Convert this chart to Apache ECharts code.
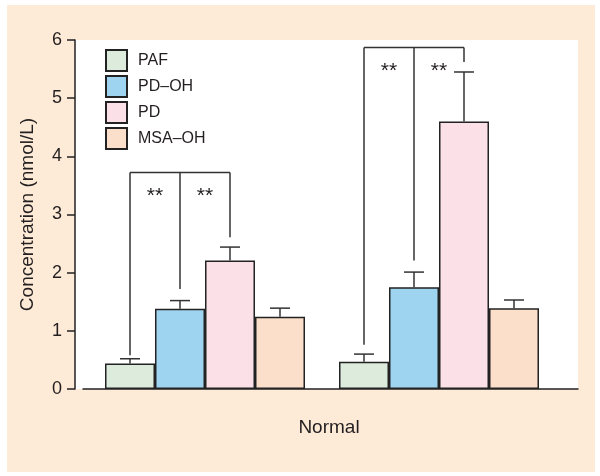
<!DOCTYPE html>
<html><head><meta charset="utf-8">
<script src="https://cdn.jsdelivr.net/npm/echarts@6/dist/echarts.min.js"></script>
<style>
html,body{margin:0;padding:0;background:#fff;}
#wrap{position:relative;width:600px;height:476px;}
#panel{position:absolute;left:7px;top:5px;width:588px;height:467px;background:#fdebd7;}
#chart{position:absolute;left:0;top:0;width:600px;height:476px;}
</style>
</head><body>
<div id="wrap"><div id="panel"></div><div id="chart"></div></div>
<script>
// ---- data ----
const categories = ['Group A', 'Group B'];
const seriesNames = ['PAF', 'PD\u2013OH', 'PD', 'MSA\u2013OH'];
const pafValues   = [0.44, 0.47];
const pdohValues  = [1.38, 1.75];
const pdValues    = [2.21, 4.60];
const msaohValues = [1.24, 1.39];
// upper end of each error bar
const pafErrTop   = [0.52, 0.60];
const pdohErrTop  = [1.52, 2.01];
const pdErrTop    = [2.44, 5.45];
const msaohErrTop = [1.39, 1.53];
// significance brackets (PAF / PD-OH / PD legs)
const bracketTop     = [3.72, 5.87];
const bracketLegEnds = [[0.58, 1.72, 2.61], [0.76, 2.21, 5.62]];
const bracketMarks   = ['**', '**'];
const yTicks = [0, 1, 2, 3, 4, 5, 6];

const colors = ['#dcebdc', '#9fd4f1', '#fbe0e7', '#fbdfca'];
const FONT = '"Liberation Sans", Arial, sans-serif';
const TXT = '#231f20';
const BAR_W = 50;

const allValues = [pafValues, pdohValues, pdValues, msaohValues];
const allErr = [pafErrTop, pdohErrTop, pdErrTop, msaohErrTop];

const barSeries = allValues.map((vals, s) => ({
  name: seriesNames[s],
  type: 'bar',
  xAxisIndex: 0, yAxisIndex: 0,
  data: vals,
  barWidth: BAR_W,
  barGap: '0%',
  itemStyle: { color: colors[s], borderColor: '#222', borderWidth: 1.5 },
  emphasis: { disabled: true },
  z: 2
}));

const errData = [];
allValues.forEach((vals, s) => vals.forEach((v, c) => errData.push([c, s, v, allErr[s][c]])));

const errSeries = {
  type: 'custom',
  xAxisIndex: 0, yAxisIndex: 0,
  data: errData,
  z: 4,
  silent: true,
  renderItem: function (params, api) {
    const c = api.value(0), s = api.value(1);
    const base = api.coord([c, api.value(2)]);
    const top = api.coord([c, api.value(3)]);
    const x = base[0] + (s - 1.5) * BAR_W;
    const st = { stroke: '#333', lineWidth: 1.5 };
    return { type: 'group', children: [
      { type: 'line', shape: { x1: x, y1: base[1], x2: x, y2: top[1] }, style: st },
      { type: 'line', shape: { x1: x - 10, y1: top[1], x2: x + 10, y2: top[1] }, style: st }
    ]};
  }
};

const bracketData = bracketTop.map((t, c) => [c, t, bracketLegEnds[c][0], bracketLegEnds[c][1], bracketLegEnds[c][2]]);

const bracketSeries = {
  type: 'custom',
  xAxisIndex: 0, yAxisIndex: 0,
  data: bracketData,
  z: 4,
  silent: true,
  renderItem: function (params, api) {
    const c = api.value(0);
    const topPt = api.coord([c, api.value(1)]);
    const cx = topPt[0];
    const xs = [0, 1, 2].map(s => cx + (s - 1.5) * BAR_W);
    const st = { stroke: '#333', lineWidth: 1.5 };
    const children = [
      { type: 'line', shape: { x1: xs[0], y1: topPt[1], x2: xs[2], y2: topPt[1] }, style: st }
    ];
    for (let k = 0; k < 3; k++) {
      const endY = api.coord([c, api.value(2 + k)])[1];
      children.push({ type: 'line', shape: { x1: xs[k], y1: topPt[1], x2: xs[k], y2: endY }, style: st });
    }
    for (let k = 0; k < 2; k++) {
      children.push({ type: 'text', style: {
        text: bracketMarks[c], x: (xs[k] + xs[k + 1]) / 2, y: topPt[1] + 24,
        align: 'center', verticalAlign: 'middle', fontSize: 21, fontFamily: FONT, fill: TXT
      }});
    }
    return { type: 'group', children };
  }
};

const chart = echarts.init(document.getElementById('chart'), null, { renderer: 'canvas' });
chart.setOption({
  backgroundColor: 'transparent',
  animation: false,
  textStyle: { fontFamily: FONT, color: TXT },
  grid: [
    { left: 88, right: 44, top: 40, bottom: 87, show: false },
    { left: 75, right: 22, top: 40, bottom: 87, show: true, backgroundColor: '#fff', borderWidth: 0 },
    { left: 83, right: 22, top: 40, bottom: 87, show: false }
  ],
  legend: {
    data: seriesNames,
    orient: 'vertical',
    left: 105, top: 49,
    padding: 0,
    itemWidth: 21, itemHeight: 21, itemGap: 3,
    icon: 'rect',
    selectedMode: false,
    textStyle: { fontSize: 16, color: TXT, fontFamily: FONT, padding: [0, 0, 0, 6] }
  },
  xAxis: [
    { type: 'category', gridIndex: 0, data: categories,
      axisLine: { show: false }, axisTick: { show: false }, axisLabel: { show: false }, splitLine: { show: false },
      name: 'Normal', nameLocation: 'middle', nameGap: 29,
      nameTextStyle: { fontSize: 19, color: TXT, fontFamily: FONT, padding: [0, 0, 0, 14] } },
    { type: 'value', gridIndex: 1, min: 0, max: 1, show: false },
    { type: 'value', gridIndex: 2, min: 0, max: 1,
      axisLine: { show: true, lineStyle: { color: '#222', width: 1.5 } },
      axisTick: { show: false }, axisLabel: { show: false }, splitLine: { show: false } }
  ],
  yAxis: [
    { type: 'value', gridIndex: 0, min: yTicks[0], max: yTicks[yTicks.length - 1], interval: 1, offset: 13,
      axisLine: { show: true, lineStyle: { color: '#222', width: 1.5 } },
      axisTick: { show: true, length: 8, lineStyle: { color: '#222', width: 1.5 } },
      axisLabel: { fontSize: 18, color: TXT, margin: 13, fontFamily: FONT },
      splitLine: { show: false },
      name: 'Concentration (nmol/L)', nameLocation: 'middle', nameGap: 38,
      nameTextStyle: { fontSize: 19, color: TXT, fontFamily: FONT } },
    { type: 'value', gridIndex: 1, min: 0, max: 1, show: false },
    { type: 'value', gridIndex: 2, min: 0, max: 1, show: false }
  ],
  series: [...barSeries, errSeries, bracketSeries]
});
</script>
</body></html>
